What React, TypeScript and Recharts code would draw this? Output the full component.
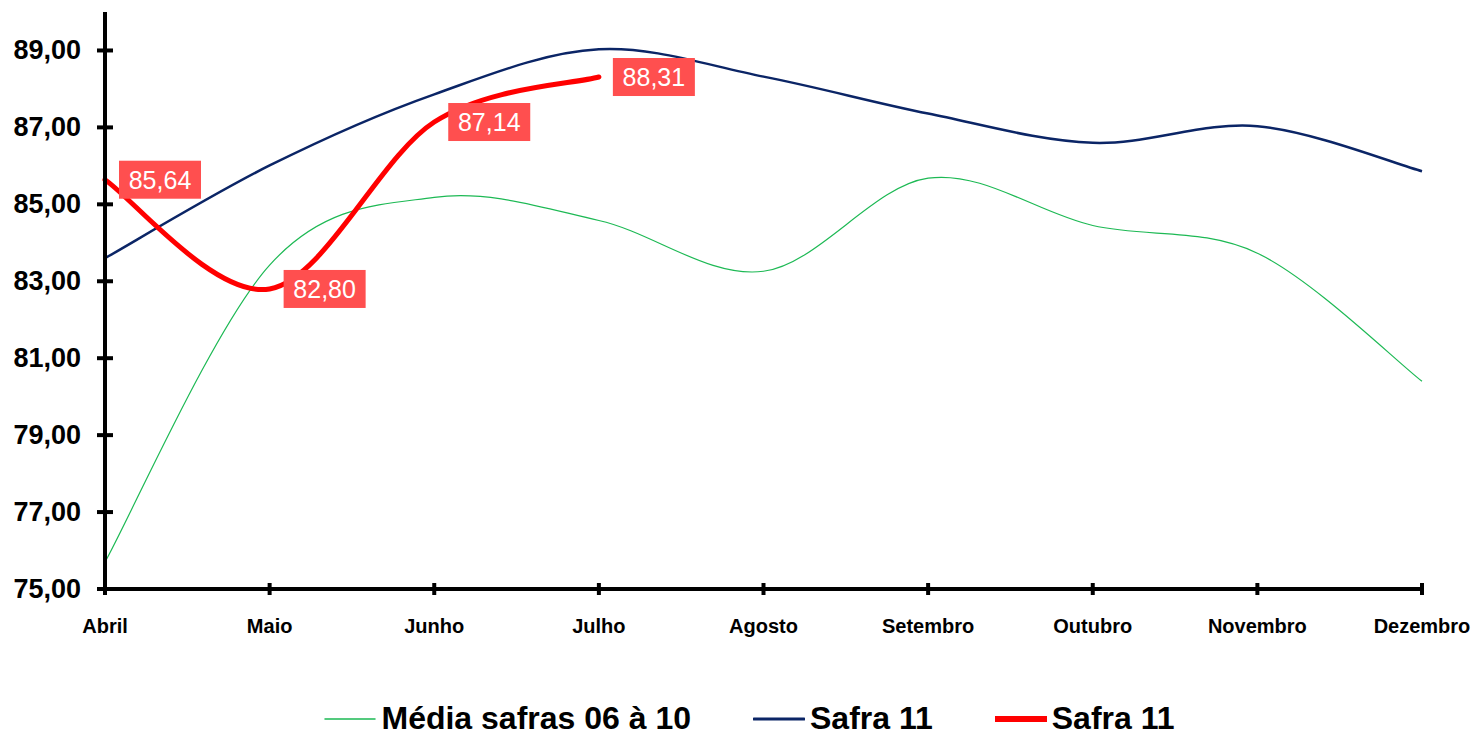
import React from 'react';
import { LineChart, Line, XAxis, YAxis, LabelList } from 'recharts';

const months = ['Abril', 'Maio', 'Junho', 'Julho', 'Agosto', 'Setembro', 'Outubro', 'Novembro', 'Dezembro'];
const mediaSafras = [75.7, 83.42, 85.18, 84.58, 83.26, 85.68, 84.45, 83.73, 80.4];
const safra11Meta = [83.6, 86.01, 87.86, 89.03, 88.32, 87.36, 86.6, 87.03, 85.86];
const safra11Real = [85.64, 82.8, 87.14, 88.31];
const yTicks = [75, 77, 79, 81, 83, 85, 87, 89];

const FONT = '"Liberation Sans", Arial, sans-serif';
const GREEN = '#1DB954';
const NAVY = '#0B2566';
const RED = '#FF0000';
const LABEL_BG = '#FF4F4F';

const chartData = months.map((month, i) => ({
  month,
  media: mediaSafras[i],
  meta: safra11Meta[i],
  real: i < safra11Real.length ? safra11Real[i] : null,
}));

const fmt = (v: number) => v.toFixed(2).replace('.', ',');

// Excel-like smoothing (Catmull-Rom through every point)
const excelSmooth = (context: any) => {
  let xs: number[] = [];
  let ys: number[] = [];
  return {
    areaStart() {},
    areaEnd() {},
    lineStart() {
      xs = [];
      ys = [];
    },
    point(x: number, y: number) {
      xs.push(+x);
      ys.push(+y);
    },
    lineEnd() {
      const n = xs.length;
      if (!n) return;
      context.moveTo(xs[0], ys[0]);
      if (n === 1) {
        context.lineTo(xs[0], ys[0]);
        return;
      }
      for (let i = 0; i < n - 1; i++) {
        const p0 = Math.max(i - 1, 0);
        const p3 = Math.min(i + 2, n - 1);
        context.bezierCurveTo(
          xs[i] + (xs[i + 1] - xs[p0]) / 6,
          ys[i] + (ys[i + 1] - ys[p0]) / 6,
          xs[i + 1] - (xs[p3] - xs[i]) / 6,
          ys[i + 1] - (ys[p3] - ys[i]) / 6,
          xs[i + 1],
          ys[i + 1],
        );
      }
    },
  };
};

const YTick = ({ x, y, payload }: any) => (
  <g>
    <line x1={x - 8} x2={x + 8} y1={y} y2={y} stroke="#000" strokeWidth={4} />
    <text x={x - 24} y={y} dy={9} textAnchor="end" fontFamily={FONT} fontWeight="bold" fontSize={27} fill="#000">
      {fmt(payload.value)}
    </text>
  </g>
);

const XTick = ({ x, y, payload }: any) => (
  <g>
    <line x1={x} x2={x} y1={y - 6} y2={y + 6} stroke="#000" strokeWidth={4} />
    <text x={x} y={y + 37} dy={7} textAnchor="middle" fontFamily={FONT} fontWeight="bold" fontSize={20} fill="#000">
      {payload.value}
    </text>
  </g>
);

const ValueBox = ({ x, y, value }: any) => {
  if (value == null) return null;
  return (
    <g>
      <rect x={x + 14} y={y - 19} width={82} height={38} fill={LABEL_BG} />
      <text x={x + 55} y={y} dy={9} textAnchor="middle" fontFamily={FONT} fontSize={25} fill="#fff">
        {fmt(value)}
      </text>
    </g>
  );
};

const legendItems = [
  { label: 'Média safras 06 à 10', color: GREEN, width: 1.5 },
  { label: 'Safra 11', color: NAVY, width: 3 },
  { label: 'Safra 11', color: RED, width: 6 },
];

export default function App() {
  return (
    <div style={{ position: 'absolute', left: 0, top: 0, width: 1475, height: 736, background: '#fff' }}>
      <LineChart width={1475} height={736} data={chartData} margin={{ top: 12, right: 53, left: 0, bottom: 87 }}>
        <XAxis
          dataKey="month"
          height={60}
          interval={0}
          tickSize={0}
          tickMargin={0}
          tickLine={false}
          axisLine={{ stroke: '#000', strokeWidth: 4 }}
          tick={<XTick />}
        />
        <YAxis
          width={105}
          domain={[75, 90]}
          ticks={yTicks}
          tickSize={0}
          tickMargin={0}
          tickLine={false}
          axisLine={{ stroke: '#000', strokeWidth: 4 }}
          tick={<YTick />}
        />
        <Line dataKey="media" type={excelSmooth as any} stroke={GREEN} strokeWidth={1.2} dot={false} isAnimationActive={false} />
        <Line dataKey="meta" type={excelSmooth as any} stroke={NAVY} strokeWidth={2.5} dot={false} isAnimationActive={false} />
        <Line
          dataKey="real"
          type={excelSmooth as any}
          stroke={RED}
          strokeWidth={5}
          strokeLinecap="round"
          dot={false}
          isAnimationActive={false}
        >
          <LabelList dataKey="real" content={<ValueBox />} />
        </Line>
      </LineChart>
      <div
        style={{
          position: 'absolute',
          left: 12,
          top: 700,
          width: 1475,
          display: 'flex',
          justifyContent: 'center',
          alignItems: 'center',
          fontFamily: FONT,
          fontWeight: 'bold',
          fontSize: 32,
          color: '#000',
        }}
      >
        {legendItems.map((item, i) => (
          <div key={i} style={{ display: 'flex', alignItems: 'center', marginLeft: i ? 62 : 0 }}>
            <svg width={52} height={10} style={{ marginRight: 5 }}>
              <line x1={1} x2={51} y1={5} y2={5} stroke={item.color} strokeWidth={item.width} strokeLinecap="round" />
            </svg>
            <span>{item.label}</span>
          </div>
        ))}
      </div>
    </div>
  );
}
